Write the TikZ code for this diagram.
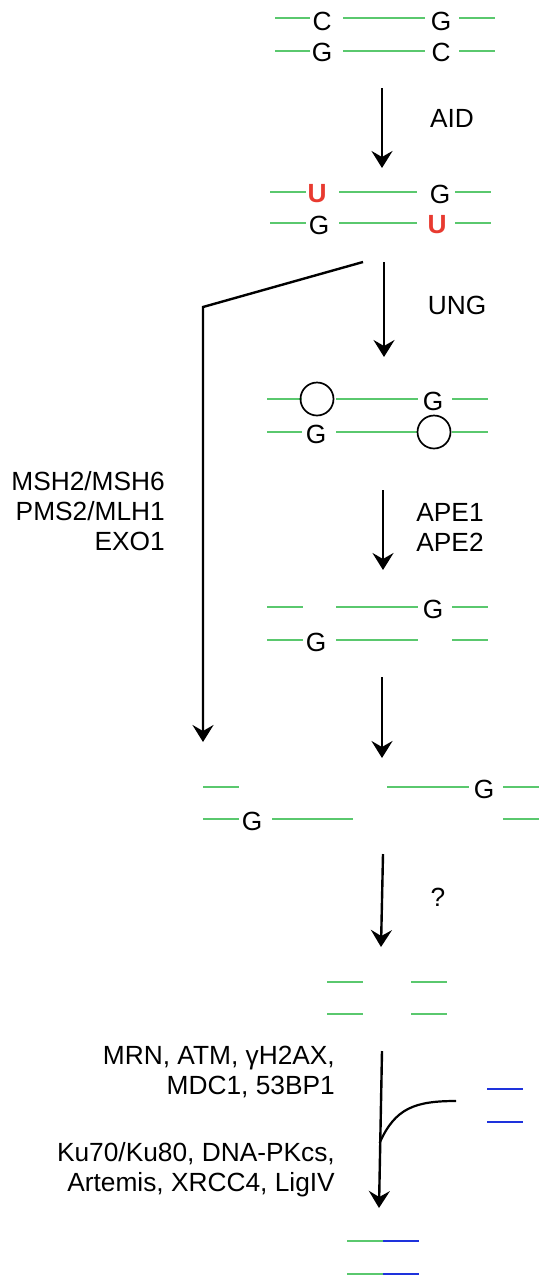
\documentclass[tikz,border=0pt]{standalone}
\usepackage{fontspec}
\setmainfont{Liberation Sans}
\usetikzlibrary{arrows.meta}
\definecolor{dnagreen}{RGB}{90,200,110}
\definecolor{dnablue}{RGB}{30,50,220}
\definecolor{ured}{RGB}{232,58,48}
\begin{document}
\begin{tikzpicture}[x=1pt,y=-1pt,
  strand/.style={dnagreen, line width=2.4pt},
  bstrand/.style={dnablue, line width=2.4pt},
  base/.style={inner sep=0pt, font=\fontsize{26.3}{30}\selectfont},
  ubase/.style={inner sep=0pt, font=\fontsize{26.3}{30}\selectfont\bfseries, text=ured},
  lab/.style={inner sep=0pt, font=\fontsize{26.3}{30}\selectfont},
  gap/.style={circle, draw, line width=1.7pt, minimum size=33pt, inner sep=0pt},
  flow/.style={line width=2.4pt, -{Stealth[length=17pt,width=21pt,inset=6pt]}},
  plain/.style={line width=2.2pt},
  ]
\useasboundingbox (0,0) rectangle (540,1277);

% Row 1
\draw[strand] (275,18) -- (310,18) (343,18) -- (425,18) (459,18) -- (495,18);
\draw[strand] (275,51) -- (310,51) (343,51) -- (425,51) (459,51) -- (495,51);
\node[base] (c1) at (322,21) {C};
\node[base] (g1) at (441,21) {G};
\node[base] (g2) at (322,52) {G};
\node[base] (c2) at (441,52) {C};

% AID
\coordinate (a1s) at (382,88);
\coordinate (a1e) at (382,168);
\draw[flow] (a1s) -- (a1e);
\node[lab] (aid) at (452,118) {AID};

% Row 2
\draw[strand] (270,192) -- (306,192) (339,192) -- (417,192) (455,192) -- (491,192);
\draw[strand] (270,223) -- (306,223) (339,223) -- (417,223) (455,223) -- (491,223);
\node[ubase] (u1) at (317,194) {U};
\node[base] (g3) at (440,194) {G};
\node[base] (g4) at (319,225) {G};
\node[ubase] (u2) at (437,225) {U};

% Mismatch repair branch
\coordinate (m1) at (363,262);
\coordinate (m2) at (203,307);
\coordinate (m3) at (203,742);
\draw[flow] (m1) -- (m2) -- (m3);
\node[lab, align=right, anchor=east] (mmr) at (165,511) {MSH2/MSH6\\PMS2/MLH1\\EXO1};

% UNG
\coordinate (a2s) at (384,262);
\coordinate (a2e) at (384,357);
\draw[flow] (a2s) -- (a2e);
\node[lab] (ung) at (457,305) {UNG};

% Row 3
\draw[strand] (267,399) -- (302,399) (336,399) -- (418,399) (452,399) -- (488,399);
\draw[strand] (267,432) -- (302,432) (336,432) -- (418,432) (452,432) -- (488,432);
\node[gap] (o1) at (317,399) {};
\node[base] (g5) at (433,401) {G};
\node[base] (g6) at (316,434) {G};
\node[gap] (o2) at (434,432) {};

% APE
\coordinate (a3s) at (383,490);
\coordinate (a3e) at (383,570);
\draw[flow] (a3s) -- (a3e);
\node[lab, align=left] (ape) at (450,527) {APE1\\APE2};

% Row 4
\draw[strand] (267,607) -- (303,607) (336,607) -- (418,607) (452,607) -- (488,607);
\draw[strand] (267,640) -- (303,640) (336,640) -- (418,640) (452,640) -- (488,640);
\node[base] (g7) at (433,609) {G};
\node[base] (g8) at (316,642) {G};

% arrow 4
\coordinate (a4s) at (382,677);
\coordinate (a4e) at (382,758);
\draw[flow] (a4s) -- (a4e);

% Row 5
\draw[strand] (203,787) -- (239,787) (387,787) -- (469,787) (503,787) -- (539,787);
\draw[strand] (203,819) -- (239,819) (272,819) -- (353,819) (503,819) -- (539,819);
\node[base] (g9) at (484,789) {G};
\node[base] (g10) at (252,821) {G};

% arrow 5
\coordinate (a5s) at (383,854);
\coordinate (a5e) at (381,947);
\draw[flow] (a5s) -- (a5e);
\node[lab] (q) at (438,897) {?};

% Row 6
\draw[strand] (327,982) -- (363,982) (411,982) -- (447,982);
\draw[strand] (327,1014) -- (363,1014) (411,1014) -- (447,1014);

% NHEJ
\coordinate (a6s) at (382,1051);
\coordinate (a6e) at (379,1208);
\coordinate (br) at (379.6,1143);
\coordinate (bre) at (456,1101);
\draw[flow] (a6s) -- (a6e);
\draw[plain] (br) .. controls (395,1108) and (415,1101) .. (bre);
\draw[bstrand] (487,1089) -- (523,1089);
\draw[bstrand] (487,1122) -- (523,1122);
\node[lab, align=right, anchor=east] (dd) at (335,1072) {MRN, ATM, γH2AX,\\MDC1, 53BP1};
\node[lab, align=right, anchor=east] (nhej) at (335,1170) {Ku70/Ku80, DNA-PKcs,\\Artemis, XRCC4, LigIV};

% Final
\draw[strand] (347,1241) -- (383,1241);
\draw[bstrand] (383,1241) -- (419,1241);
\draw[strand] (347,1274) -- (383,1274);
\draw[bstrand] (383,1274) -- (419,1274);
\end{tikzpicture}
\end{document}
